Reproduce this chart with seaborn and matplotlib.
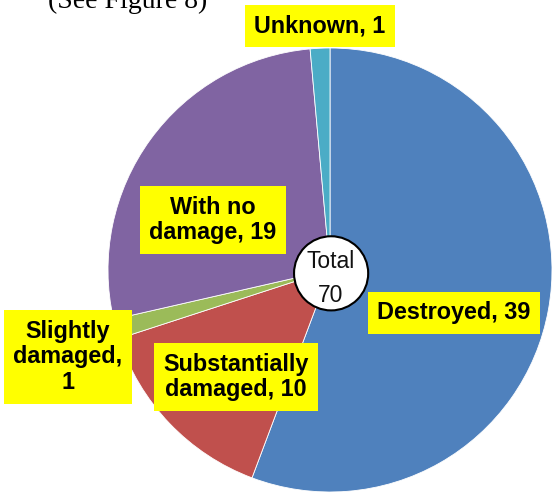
import numpy as np
import matplotlib
matplotlib.use("Agg")
import matplotlib.pyplot as plt
import seaborn as sns

sns.set_theme(style="white")
plt.rcParams["font.family"] = ["Liberation Sans", "DejaVu Sans"]

# data, clockwise from 12 o'clock
categories = ["Destroyed", "Substantially\ndamaged", "Slightly\ndamaged,\n", "With no\ndamage", "Unknown"]
counts = [39, 10, 1, 19, 1]
colors = ["#4F81BD", "#C0504D", "#9BBB59", "#8064A2", "#4BACC6"]
total = sum(counts)

# label centres in pixels (x, y from top-left) for the yellow boxes
label_px = [(454, 313), (236, 377), (68, 357), (213, 220), (320, 26)]

W, H = 553, 493
cx, cy, r = 330, 270, 222

fig = plt.figure(figsize=(W / 100, H / 100), dpi=100)
ax = fig.add_axes([(cx - r) / W, (H - cy - r) / H, 2 * r / W, 2 * r / H])

ax.pie(counts, colors=colors, startangle=90, counterclock=False,
       wedgeprops=dict(linewidth=0.6, edgecolor="white"))
ax.set_xlim(-1, 1)
ax.set_ylim(-1, 1)
ax.set_axis_off()

for cat, n, (px, py) in zip(categories, counts, label_px):
    sep = "" if cat.endswith("\n") else ", "
    fig.text(px / W, 1 - py / H, f"{cat}{sep}{n}", ha="center", va="center",
             fontsize=16.8, fontweight="bold", color="black", linespacing=1.15,
             multialignment="center",
             bbox=dict(boxstyle="square,pad=0.42", fc="#FFFF00", ec="none"))

# total circle in the middle
circ = plt.Circle((0.005, -0.015), 0.167, facecolor="white", edgecolor="black",
                  linewidth=1.5, zorder=5)
ax.add_patch(circ)
fig.text(331 / W, 1 - 262 / H, "Total", ha="center", va="center", fontsize=16.5, color="#111111", zorder=6)
fig.text(331 / W, 1 - 296 / H, str(total), ha="center", va="center", fontsize=16.5, color="#111111", zorder=6)

# caption fragment cut off at the top
fig.text(48 / W, 1 - 8 / H, "(See Figure 8)", ha="left", va="baseline",
         fontsize=20, family=["Liberation Serif", "DejaVu Serif"], color="black")

fig.savefig("out.png", dpi=100)
